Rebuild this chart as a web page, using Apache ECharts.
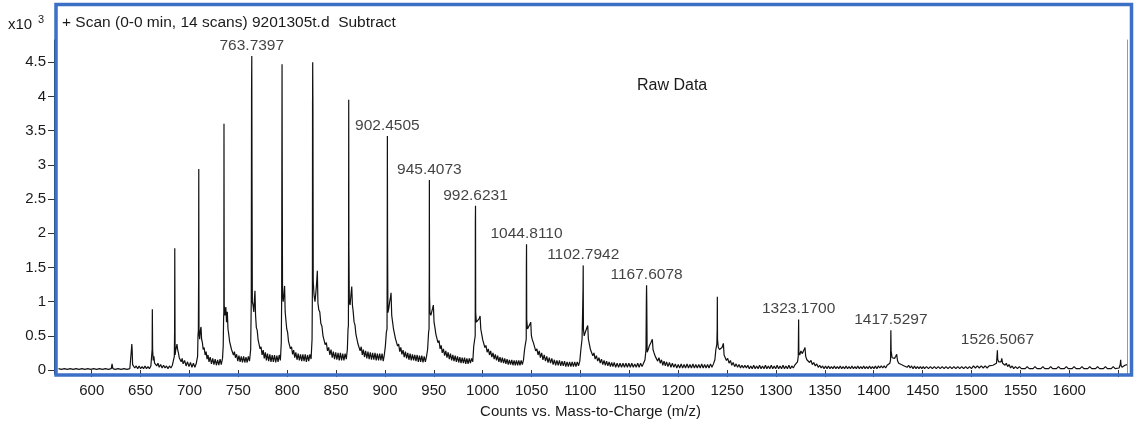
<!DOCTYPE html>
<html>
<head>
<meta charset="utf-8">
<title>Raw Data spectrum</title>
<script src="https://cdn.jsdelivr.net/npm/echarts@6/dist/echarts.min.js"></script>
<style>
  html, body { margin: 0; padding: 0; background: #fff; }
  #chart { width: 1135px; height: 424px; }
</style>
</head>
<body>
<div id="chart"></div>
<script>
// counts are x10^3, m/z on x
const traceBelow700 = [
  [566,0.02],[569,0.01],[572,0.02],[575,0.01],[578,0.02],[581,0.01],[584,0.02],[587,0.01],[590,0.02],[593,0.01],
  [596,0.02],[599,0.01],[602,0.02],[603.5,0.04],[605,0.01],[608,0.02],[611,0.01],[614,0.02],[617,0.01],[620,0.02],
  [620.8,0.09],[621.6,0.02],[624,0.01],[627,0.02],[630,0.01],[633,0.02],[636,0.01],[639,0.02],
  [640.3,0.03],[640.6,0.3],[641.0,0.38],[641.4,0.28],[641.8,0.08],[642.6,0.06],[644,0.03],[645.5,0.06],[647,0.02],
  [648.5,0.06],[650,0.02],[651.5,0.05],[653,0.02],[654.5,0.06],[656,0.02],[657.5,0.05],[659,0.02],[660.5,0.06],[661.5,0.06],
  [661.8,0.3],[662.0,0.89],[662.3,0.3],[662.9,0.14],[663.6,0.2],[664.3,0.1],[665.3,0.12],[666.5,0.06],[667.8,0.1],
  [669,0.04],[670.5,0.08],[672,0.03],[673.5,0.07],[675,0.03],[676.5,0.06],[678,0.02],[679.5,0.06],[681,0.03],[682.5,0.07],[684,0.08],
  [684.5,0.2],[684.8,0.6],[684.95,1.78],[685.3,0.22],[686,0.3],[686.7,0.34],[687.2,0.38],[687.9,0.3],[688.7,0.25],
  [689.5,0.18],[690.5,0.2],[691.5,0.12],[692.5,0.17],[693.5,0.09],[695,0.14],[696.5,0.06],[698,0.12],[699.5,0.05]
];
const trace700to900 = [
  [701,0.11],[702.5,0.04],[704,0.1],[705.5,0.04],[707,0.1],[708.3,0.2],
  [708.7,0.5],[709.1,0.58],[709.35,1.4],[709.5,2.94],[709.75,0.55],[710.4,0.45],[711.1,0.58],[711.8,0.63],[712.4,0.45],
  [713.2,0.4],[714,0.3],[715,0.33],[716,0.22],[717,0.27],[718,0.16],[719,0.22],[720,0.12],[721.2,0.19],[722.5,0.09],
  [723.8,0.17],[725,0.08],[726.3,0.16],[727.5,0.07],[728.8,0.15],[730,0.07],[731.3,0.16],[732.5,0.08],[733.8,0.17],[734.5,0.35],
  [734.9,0.75],[735.15,0.85],[735.3,3.6],[735.55,0.95],[736.2,0.8],[737.2,0.92],[737.9,0.7],[738.7,0.85],[739.4,0.6],
  [740.2,0.52],[741,0.42],[742,0.4],[743,0.3],[744,0.32],[745,0.22],[746,0.27],[747,0.18],[748.2,0.23],[749.4,0.13],
  [750.6,0.21],[751.8,0.12],[753,0.2],[754.2,0.11],[755.4,0.2],[756.6,0.11],[757.8,0.19],[759,0.11],[760.2,0.2],
  [761.4,0.13],[762.6,0.3],
  [763.2,1.0],[763.5,4.1],[763.74,4.59],[763.95,3.0],[764.3,1.0],[765,0.95],[765.8,0.85],[766.5,1.05],[767.0,1.16],
  [767.6,0.8],[768.4,0.62],[769.3,0.58],[770.2,0.44],[771.2,0.43],[772.2,0.31],[773.2,0.34],[774.3,0.22],[775.4,0.29],
  [776.5,0.17],[777.6,0.26],[778.7,0.14],[779.8,0.24],[781,0.13],[782.2,0.23],[783.4,0.12],[784.6,0.22],[785.8,0.12],
  [787,0.22],[788.2,0.11],[789.4,0.21],[790.6,0.12],[791.8,0.22],[793,0.14],[793.9,0.4],
  [794.3,1.05],[794.5,3.0],[794.7,4.47],[794.9,2.89],[795.2,1.1],[795.9,1.0],[796.6,1.12],[797.3,1.23],[797.9,0.85],
  [798.7,0.72],[799.5,0.6],[800.4,0.55],[801.3,0.42],[802.3,0.43],[803.3,0.31],[804.4,0.34],[805.5,0.23],[806.6,0.29],
  [807.7,0.18],[808.8,0.26],[810,0.15],[811.2,0.24],[812.4,0.14],[813.6,0.23],[814.8,0.13],[816,0.23],[817.2,0.13],
  [818.4,0.23],[819.6,0.12],[820.8,0.22],[822,0.13],[823.2,0.23],[824.4,0.16],[825.4,0.45],
  [825.75,1.2],[825.9,3.85],[826.05,4.5],[826.3,3.85],[826.6,1.3],[827.4,1.1],[828.4,1.0],[829.4,1.15],[830.2,1.3],
  [830.8,1.45],[831.4,0.98],[832.3,0.88],[833.3,0.85],[834.4,0.68],[835.5,0.64],[836.6,0.5],[837.7,0.5],[838.8,0.37],
  [840,0.4],[841.2,0.28],[842.4,0.33],[843.6,0.22],[844.8,0.3],[846,0.18],[847.2,0.27],[848.4,0.16],[849.6,0.26],
  [850.8,0.15],[852,0.25],[853.2,0.14],[854.4,0.25],[855.6,0.14],[856.8,0.24],[858,0.14],[859.2,0.24],[860.4,0.16],
  [861.5,0.3],[862.2,0.6],
  [862.6,0.65],[862.75,1.81],[862.9,3.95],[863.1,1.81],[863.5,1.0],[864.3,0.95],[865.2,1.1],[866,1.22],[866.7,0.95],
  [867.5,0.85],[868.4,0.7],[869.3,0.66],[870.3,0.52],[871.3,0.52],[872.4,0.38],[873.5,0.4],[874.6,0.28],[875.7,0.34],
  [876.8,0.22],[877.9,0.3],[879,0.19],[880.2,0.28],[881.4,0.17],[882.6,0.27],[883.8,0.16],[885,0.26],[886.2,0.15],
  [887.4,0.25],[888.6,0.15],[889.8,0.25],[891,0.14],[892.2,0.24],[893.4,0.14],[894.6,0.24],[895.8,0.14],[897,0.24],
  [898.2,0.13],[899.4,0.23]
];
const trace900to1100 = [
  [900.4,0.35],[901.4,0.55],
  [902.1,0.6],[902.3,1.88],[902.45,3.42],[902.65,1.88],[903,0.84],[903.9,0.9],[904.8,1.0],[905.5,1.05],[906.2,1.13],
  [906.9,0.8],[907.8,0.7],[908.7,0.6],[909.7,0.58],[910.7,0.46],[911.8,0.47],[912.9,0.35],[914,0.38],[915.1,0.27],
  [916.2,0.33],[917.3,0.23],[918.5,0.29],[919.7,0.19],[920.9,0.27],[922.1,0.17],[923.3,0.25],[924.5,0.15],[925.7,0.24],
  [926.9,0.14],[928.1,0.23],[929.3,0.14],[930.5,0.22],[931.7,0.13],[932.9,0.22],[934.1,0.12],[935.3,0.21],[936.5,0.12],
  [937.7,0.21],[938.9,0.11],[940.1,0.2],[941.3,0.12],[942.5,0.2],[943.6,0.3],[944.6,0.55],
  [945.1,0.6],[945.3,1.5],[945.41,2.78],[945.6,1.08],[946,0.84],[946.9,0.8],[947.8,0.85],[948.7,0.9],[949.5,0.95],
  [950.2,0.7],[951.1,0.62],[952.1,0.52],[953.1,0.52],[954.2,0.4],[955.3,0.43],[956.4,0.31],[957.5,0.36],[958.6,0.25],
  [959.8,0.31],[961,0.21],[962.2,0.28],[963.4,0.18],[964.6,0.26],[965.8,0.16],[967,0.24],[968.2,0.14],[969.4,0.22],
  [970.6,0.13],[971.8,0.21],[973,0.12],[974.2,0.2],[975.4,0.11],[976.6,0.19],[977.8,0.1],[979,0.18],[980.2,0.1],
  [981.4,0.18],[982.6,0.09],[983.8,0.17],[985,0.09],[986.2,0.17],[987.4,0.1],[988.6,0.17],[989.8,0.12],[990.8,0.35],[991.8,0.45],
  [992.3,0.5],[992.45,2.16],[992.62,2.4],[992.8,0.84],[993.5,0.7],[994.4,0.68],[995.4,0.72],[996.4,0.75],[997.3,0.79],
  [998,0.6],[999,0.52],[1000,0.44],[1001.1,0.44],[1002.2,0.33],[1003.3,0.36],[1004.5,0.26],[1005.7,0.31],[1006.9,0.22],
  [1008.1,0.28],[1009.3,0.19],[1010.5,0.25],[1011.7,0.16],[1012.9,0.23],[1014.1,0.14],[1015.3,0.21],[1016.5,0.12],
  [1017.7,0.19],[1018.9,0.11],[1020.1,0.18],[1021.3,0.1],[1022.5,0.17],[1023.7,0.09],[1024.9,0.16],[1026.1,0.08],
  [1027.3,0.15],[1028.5,0.08],[1029.7,0.15],[1030.9,0.07],[1032.1,0.14],[1033.3,0.07],[1034.5,0.14],[1035.7,0.07],
  [1036.9,0.14],[1038.1,0.07],[1039.3,0.14],[1040.5,0.08],[1041.7,0.15],[1042.8,0.3],[1043.9,0.4],
  [1044.5,0.45],[1044.65,1.52],[1044.81,1.84],[1045,0.74],[1045.8,0.6],[1046.8,0.62],[1047.9,0.66],[1049.1,0.7],
  [1049.8,0.5],[1050.8,0.44],[1051.8,0.4],[1053,0.38],[1054.2,0.28],[1055.4,0.31],[1056.6,0.22],[1057.8,0.28],
  [1059,0.18],[1060.3,0.25],[1061.6,0.15],[1062.9,0.22],[1064.2,0.13],[1065.5,0.2],[1066.8,0.11],[1068.1,0.18],
  [1069.4,0.1],[1070.7,0.17],[1072,0.08],[1073.3,0.15],[1074.6,0.07],[1075.9,0.14],[1077.2,0.07],[1078.5,0.14],
  [1079.8,0.06],[1081.1,0.13],[1082.4,0.06],[1083.7,0.13],[1085,0.05],[1086.3,0.12],[1087.6,0.05],[1088.9,0.12],
  [1090.2,0.05],[1091.5,0.12],[1092.8,0.05],[1094.1,0.12],[1095.4,0.05],[1096.7,0.12],[1098,0.06],[1099.3,0.13]
];
const traceAbove1100 = [
  [1100.4,0.3],[1101.6,0.45],
  [1102.3,0.94],[1102.6,1.2],[1102.79,1.53],[1103,0.6],[1103.8,0.5],[1104.9,0.55],[1106.1,0.6],[1107.4,0.65],
  [1108.1,0.45],[1109.1,0.38],[1110.2,0.3],[1111.4,0.3],[1112.6,0.21],[1113.8,0.25],[1115,0.16],[1116.3,0.21],
  [1117.6,0.13],[1118.9,0.18],[1120.2,0.1],[1121.5,0.16],[1122.8,0.08],[1124.1,0.14],[1125.4,0.07],[1126.7,0.13],
  [1128,0.06],[1129.3,0.12],[1130.6,0.05],[1131.9,0.11],[1133.2,0.05],[1134.5,0.11],[1136,0.04],[1137.5,0.1],
  [1139,0.04],[1140.5,0.1],[1142,0.04],[1143.5,0.1],[1145,0.04],[1146.5,0.1],[1148,0.04],[1149.5,0.1],[1151,0.04],
  [1152.5,0.1],[1154,0.04],[1155.5,0.09],[1157,0.04],[1158.5,0.1],[1160,0.04],[1161.5,0.1],[1163,0.05],[1164.5,0.1],
  [1166,0.15],[1167,0.3],
  [1167.4,1.03],[1167.61,1.24],[1167.8,1.03],[1168.2,0.26],[1169.3,0.3],[1170.6,0.36],[1172,0.4],[1173.5,0.45],
  [1174.2,0.3],[1175.3,0.25],[1176.5,0.2],[1177.7,0.22],[1179,0.13],[1180.3,0.18],[1181.6,0.1],[1182.9,0.15],
  [1184.2,0.07],[1185.5,0.13],[1186.8,0.06],[1188.1,0.12],[1189.5,0.05],[1191,0.11],[1192.5,0.04],[1194,0.1],
  [1195.5,0.04],[1197,0.09],[1198.5,0.03],[1200,0.08],[1201.5,0.03],[1203,0.09],[1204.5,0.03],[1206,0.08],
  [1207.5,0.03],[1209,0.09],[1210.5,0.03],[1212,0.08],[1213.5,0.03],[1215,0.09],[1216.5,0.03],[1218,0.08],
  [1219.5,0.03],[1221,0.08],[1222.5,0.03],[1224,0.09],[1225.5,0.03],[1227,0.08],[1228.5,0.03],[1230,0.08],
  [1231.5,0.03],[1233,0.09],[1234.5,0.04],[1236,0.09],[1237.5,0.15],[1238.5,0.3],
  [1239.5,0.38],[1239.85,0.6],[1240,1.07],[1240.2,0.45],[1241,0.33],[1242.2,0.3],[1243.5,0.28],[1244.8,0.33],
  [1246.2,0.39],[1246.9,0.22],[1248,0.2],[1249.3,0.14],[1250.6,0.17],[1252,0.1],[1253.4,0.14],[1254.8,0.07],
  [1256.2,0.11],[1257.7,0.05],[1259.2,0.09],[1260.7,0.04],[1262.2,0.08],[1263.7,0.03],[1265.2,0.07],[1266.7,0.03],
  [1268.2,0.07],[1269.7,0.03],[1271.2,0.07],[1272.7,0.02],[1274.2,0.06],[1275.7,0.02],[1277.2,0.07],[1278.7,0.02],
  [1280.2,0.06],[1281.7,0.02],[1283.2,0.07],[1284.7,0.02],[1286.2,0.06],[1287.7,0.02],[1289.2,0.07],[1290.7,0.02],
  [1292.2,0.06],[1293.7,0.02],[1295.2,0.07],[1296.7,0.02],[1298.2,0.06],[1299.7,0.02],[1301.2,0.07],[1302.7,0.02],
  [1304.2,0.06],[1305.7,0.02],[1307.2,0.07],[1308.7,0.02],[1310.2,0.06],[1311.7,0.02],[1313.2,0.07],[1314.7,0.02],
  [1316.2,0.06],[1317.7,0.03],[1319.2,0.07],[1320.7,0.05],[1322,0.12],
  [1322.8,0.2],[1323.17,0.74],[1323.4,0.26],[1324.3,0.22],[1325.5,0.28],[1326.8,0.24],[1328.2,0.28],[1329.7,0.33],
  [1330.4,0.2],[1331.6,0.15],[1333,0.17],[1334.4,0.11],[1335.8,0.14],[1337.2,0.08],[1338.7,0.11],[1340.2,0.06],
  [1341.7,0.09],[1343.2,0.04],[1344.7,0.07],[1346.2,0.03],[1347.7,0.06],[1349.2,0.02],[1350.7,0.06],[1352.2,0.02],
  [1353.7,0.06],[1355.2,0.02],[1356.7,0.05],[1358.2,0.02],[1359.7,0.06],[1361.2,0.02],[1362.7,0.05],[1364.2,0.02],
  [1365.7,0.06],[1367.2,0.02],[1368.7,0.05],[1370.2,0.02],[1371.7,0.06],[1373.2,0.02],[1374.7,0.05],[1376.2,0.02],
  [1377.7,0.06],[1379.2,0.02],[1380.7,0.05],[1382.2,0.02],[1383.7,0.06],[1385.2,0.02],[1386.7,0.05],[1388.2,0.02],
  [1389.7,0.06],[1391.2,0.02],[1392.7,0.05],[1394.2,0.02],[1395.7,0.06],[1397.2,0.02],[1398.7,0.05],[1400.2,0.02],
  [1401.7,0.06],[1403.2,0.02],[1404.7,0.06],[1406.2,0.03],[1407.7,0.06],[1409.2,0.03],[1410.7,0.06],[1412.2,0.03],
  [1413.7,0.07],[1415.2,0.05],[1416.5,0.1],
  [1417.2,0.15],[1417.53,0.58],[1417.8,0.28],[1418.8,0.18],[1420,0.2],[1421.3,0.17],[1422.5,0.2],[1423.5,0.23],
  [1424.3,0.14],[1425.5,0.1],[1426.8,0.12],[1428.2,0.08],[1429.7,0.1],[1431.2,0.06],[1432.7,0.08],[1434.2,0.04],
  [1435.7,0.07],[1437.2,0.03],[1438.7,0.06],[1440.2,0.02],[1441.7,0.06],[1443.2,0.02],[1444.7,0.05],[1446.2,0.02],
  [1447.7,0.05],[1449.2,0.02],[1450.7,0.05],[1452,0.02],[1454,0.05],[1456,0.02],[1458,0.05],[1460,0.02],[1462,0.05],
  [1464,0.02],[1466,0.05],[1468,0.02],[1470,0.05],[1472,0.02],[1474,0.05],[1476,0.02],[1478,0.05],[1480,0.02],
  [1482,0.05],[1484,0.02],[1486,0.05],[1488,0.02],[1490,0.05],[1492,0.02],[1494,0.05],[1496,0.02],[1498,0.05],
  [1500,0.02],[1502,0.06],[1504,0.03],[1506,0.06],[1508,0.03],[1510,0.06],[1512,0.03],[1514,0.06],[1516,0.03],
  [1518,0.06],[1520,0.04],[1522,0.07],[1524,0.05],[1525.6,0.1],
  [1526.2,0.12],[1526.51,0.29],[1526.8,0.16],[1527.8,0.12],[1529,0.14],[1530.2,0.12],[1531,0.17],[1531.8,0.1],
  [1533,0.12],[1534.3,0.07],[1535.6,0.1],[1537,0.05],[1538.4,0.08],[1540,0.03],[1541.6,0.06],[1543.2,0.02],
  [1545,0.05],[1547,0.02],[1549,0.05],[1551,0.02],[1553,0.04],[1555,0.02],[1557,0.05],[1559,0.02],[1561,0.04],
  [1563,0.02],[1565,0.05],[1567,0.02],[1569,0.04],[1571,0.02],[1573,0.05],[1575,0.02],[1577,0.04],[1579,0.02],
  [1581,0.05],[1583,0.02],[1585,0.04],[1587,0.02],[1589,0.05],[1591,0.02],[1593,0.04],[1595,0.02],[1597,0.05],
  [1599,0.02],[1601,0.04],[1603,0.02],[1605,0.05],[1607,0.02],[1609,0.04],[1611,0.02],[1613,0.05],[1615,0.02],
  [1617,0.04],[1619,0.02],[1621,0.05],[1623,0.02],[1625,0.04],[1627,0.02],[1629,0.05],[1631,0.02],[1633,0.04],
  [1635,0.02],[1637,0.05],[1639,0.02],[1641,0.04],[1643,0.02],[1645,0.05],[1647,0.02],[1649,0.04],[1651,0.03],
  [1652.2,0.08],[1652.6,0.15],[1653,0.07],[1654,0.04],[1655,0.06],[1656,0.04],[1657,0.07],[1658,0.05],[1659,0.08]
];

// labelled peaks (text is the m/z, counts = peak apex)
const peakLabels = ['763.7397', '902.4505', '945.4073', '992.6231', '1044.8110',
  '1102.7942', '1167.6078', '1323.1700', '1417.5297', '1526.5067'];
const peakCounts = [4.59, 3.42, 2.78, 2.40, 1.84, 1.53, 1.24, 0.74, 0.58, 0.29];

const xTicks = [600, 650, 700, 750, 800, 850, 900, 950, 1000, 1050, 1100, 1150, 1200, 1250,
  1300, 1350, 1400, 1450, 1500, 1550, 1600, 1650];
const xLabels = xTicks.filter((v) => v <= 1600);
const yTicks = [0, 0.5, 1, 1.5, 2, 2.5, 3, 3.5, 4, 4.5];

const spectrum = traceBelow700.concat(trace700to900, trace900to1100, traceAbove1100);
const peakPoints = peakLabels.map((t, i) => [parseFloat(t), peakCounts[i], t]);

const font = "'Liberation Sans', Arial, sans-serif";
const chart = echarts.init(document.getElementById('chart'));

chart.setOption({
  animation: false,
  backgroundColor: '#fff',
  textStyle: { fontFamily: font },
  grid: { left: 54, right: 8, top: 40, bottom: 49 },
  xAxis: {
    type: 'value',
    min: 561.4,
    max: 1659.1,
    name: 'Counts vs. Mass-to-Charge (m/z)',
    nameLocation: 'middle',
    nameGap: 30,
    nameTextStyle: { color: '#1a1a1a', fontSize: 15, fontFamily: font },
    axisLine: { show: false },
    axisTick: { show: true, length: 7, customValues: xTicks, lineStyle: { color: '#333' } },
    axisLabel: {
      customValues: xLabels,
      formatter: (v) => String(v),
      color: '#1a1a1a',
      fontSize: 15,
      margin: 9,
      fontFamily: font
    },
    splitLine: { show: false }
  },
  yAxis: [
    {
      type: 'value',
      min: -0.058,
      max: 4.825,
      axisLine: { show: true, onZero: false, lineStyle: { color: '#111', width: 1 } },
      axisTick: { show: true, length: 6, customValues: yTicks, lineStyle: { color: '#333' } },
      axisLabel: { customValues: yTicks, color: '#1a1a1a', fontSize: 15, margin: 8, fontFamily: font },
      splitLine: { show: false }
    },
    {
      type: 'value',
      position: 'right',
      min: -0.058,
      max: 4.825,
      axisLine: { show: true, onZero: false, lineStyle: { color: '#999', width: 1 } },
      axisTick: { show: false },
      axisLabel: { show: false },
      splitLine: { show: false }
    }
  ],
  series: [
    {
      type: 'line',
      data: spectrum,
      showSymbol: false,
      sampling: null,
      lineStyle: { color: '#111', width: 1.2 },
      silent: true,
      z: 2
    },
    {
      type: 'scatter',
      data: peakPoints,
      symbolSize: 1,
      itemStyle: { color: 'rgba(0,0,0,0)' },
      silent: true,
      label: {
        show: true,
        position: 'top',
        distance: 2,
        formatter: (p) => p.data[2],
        color: '#111',
        fontSize: 15.5,
        fontFamily: font
      },
      z: 3
    }
  ],
  graphic: [
    {
      type: 'rect',
      silent: true,
      z: 100,
      shape: { x: 56, y: 4.5, width: 1075.5, height: 370.5 },
      style: { fill: 'none', stroke: '#3b70c6', lineWidth: 3.5 }
    },
    {
      type: 'text',
      left: 8,
      top: 17,
      silent: true,
      style: { text: 'x10', fill: '#1a1a1a', font: '15px ' + font }
    },
    {
      type: 'text',
      left: 38,
      top: 14,
      silent: true,
      style: { text: '3', fill: '#1a1a1a', font: '11px ' + font }
    },
    {
      type: 'text',
      left: 62,
      top: 15,
      silent: true,
      z: 101,
      style: { text: '+ Scan (0-0 min, 14 scans) 9201305t.d  Subtract', fill: '#1a1a1a', font: '15.5px ' + font }
    },
    {
      type: 'text',
      left: 637,
      top: 78,
      silent: true,
      style: { text: 'Raw Data', fill: '#1a1a1a', font: '16px ' + font }
    }
  ]
});
</script>
</body>
</html>
